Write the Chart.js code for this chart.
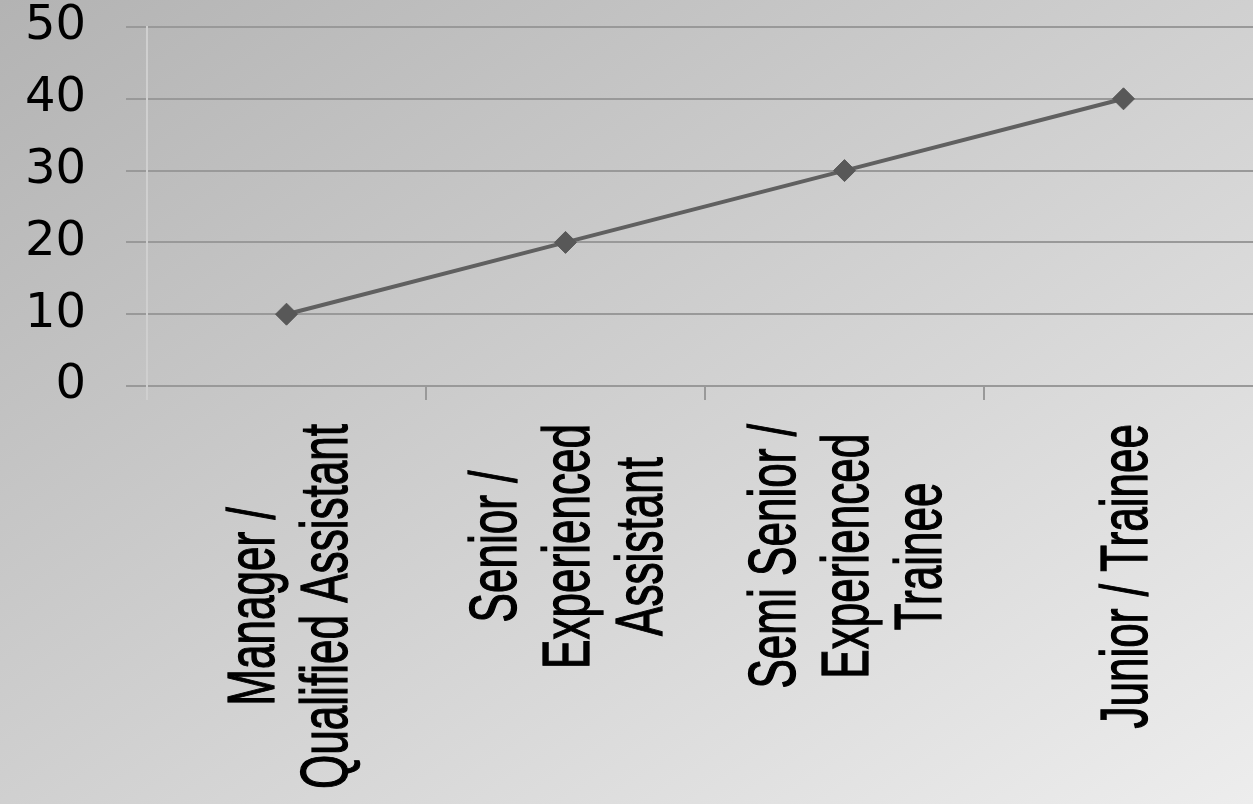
<!DOCTYPE html>
<html>
<head>
<meta charset="utf-8">
<script src="https://cdn.jsdelivr.net/npm/chart.js@4"></script>
<style>
  html, body { margin: 0; padding: 0; overflow: hidden; }
  body {
    width: 1253px; height: 804px;
    background: linear-gradient(to bottom right, #b3b3b3, #ededed);
  }
  #grafico { display: block; width: 1263px; height: 804px; }
</style>
</head>
<body>
<canvas id="grafico" width="1263" height="804"></canvas>
<script>
// dados do grafico
var categorias = [
    ["Manager /", "Qualified Assistant"],
    ["Senior /", "Experienced", "Assistant"],
    ["Semi Senior /", "Experienced", "Trainee"],
    ["Junior / Trainee"]
]
var valores = [10, 20, 30, 40]
var eixoY = { min: 0, max: 50, passo: 10 }

// rotulos do eixo x: girados, linhas centralizadas entre si
var rotulosX = {
    id: "rotulosX",
    afterDraw(chart) {
        var ctx = chart.ctx
        var escala = chart.scales.x
        var fonte = "66px 'Liberation Sans Narrow', 'Liberation Sans', Arial, sans-serif"
        ctx.save()
        ctx.font = fonte
        var sx = 245 / ctx.measureText("Experienced").width
        var espaco = 73
        var altCap = 47
        categorias.forEach((linhas, i) => {
            var px = escala.getPixelForValue(i)
            var maior = 0
            linhas.forEach(l => { maior = Math.max(maior, ctx.measureText(l).width) })
            var centroY = 424 + maior * sx / 2
            linhas.forEach((l, j) => {
                var cx = px + (j - (linhas.length - 1) / 2) * espaco
                ctx.save()
                ctx.translate(cx + altCap / 2, centroY)
                ctx.rotate(-Math.PI / 2)
                ctx.scale(sx, 1)
                ctx.fillStyle = "#000"
                ctx.strokeStyle = "#000"
                ctx.lineWidth = 1.3
                ctx.textAlign = "center"
                ctx.textBaseline = "alphabetic"
                ctx.fillText(l, 0, 0)
                ctx.strokeText(l, 0, 0)
                ctx.restore()
            })
        })
        ctx.restore()
    }
}

new Chart(document.getElementById("grafico"), {
    type: "line",
    data: {
        labels: categorias,
        datasets: [{
            data: valores,
            borderColor: "#606060",
            borderWidth: 4,
            backgroundColor: "#585858",
            pointStyle: "rectRot",
            pointRadius: 11,
            pointBorderColor: "#585858",
            pointBorderWidth: 1,
            tension: 0
        }]
    },
    options: {
        responsive: false,
        animation: false,
        layout: { autoPadding: false, padding: { top: 27, left: 0, right: 0, bottom: 0 } },
        plugins: {
            legend: { display: false },
            tooltip: { enabled: false }
        },
        scales: {
            x: {
                offset: true,
                grid: {
                    offset: true,
                    drawOnChartArea: false,
                    drawTicks: true,
                    tickLength: 14,
                    lineWidth: 2,
                    color: c => c.index === 0 ? "#cfcfcf" : "#999999"
                },
                border: { color: "#999999", width: 2 },
                ticks: { display: false },
                afterFit: s => {
                    s.height = 418
                    s.paddingLeft = 0
                    s.paddingRight = 0
                }
            },
            y: {
                min: eixoY.min,
                max: eixoY.max,
                ticks: {
                    stepSize: eixoY.passo,
                    padding: 40,
                    color: "#000",
                    font: { family: "'DejaVu Sans', Verdana, sans-serif", size: 48 }
                },
                grid: {
                    color: "#999999",
                    lineWidth: 2,
                    tickLength: 21
                },
                border: { color: "#cfcfcf", width: 2 },
                afterFit: s => {
                    s.width = 147
                    s.paddingTop = 0
                    s.paddingBottom = 0
                }
            }
        }
    },
    plugins: [rotulosX]
})
</script>
</body>
</html>
